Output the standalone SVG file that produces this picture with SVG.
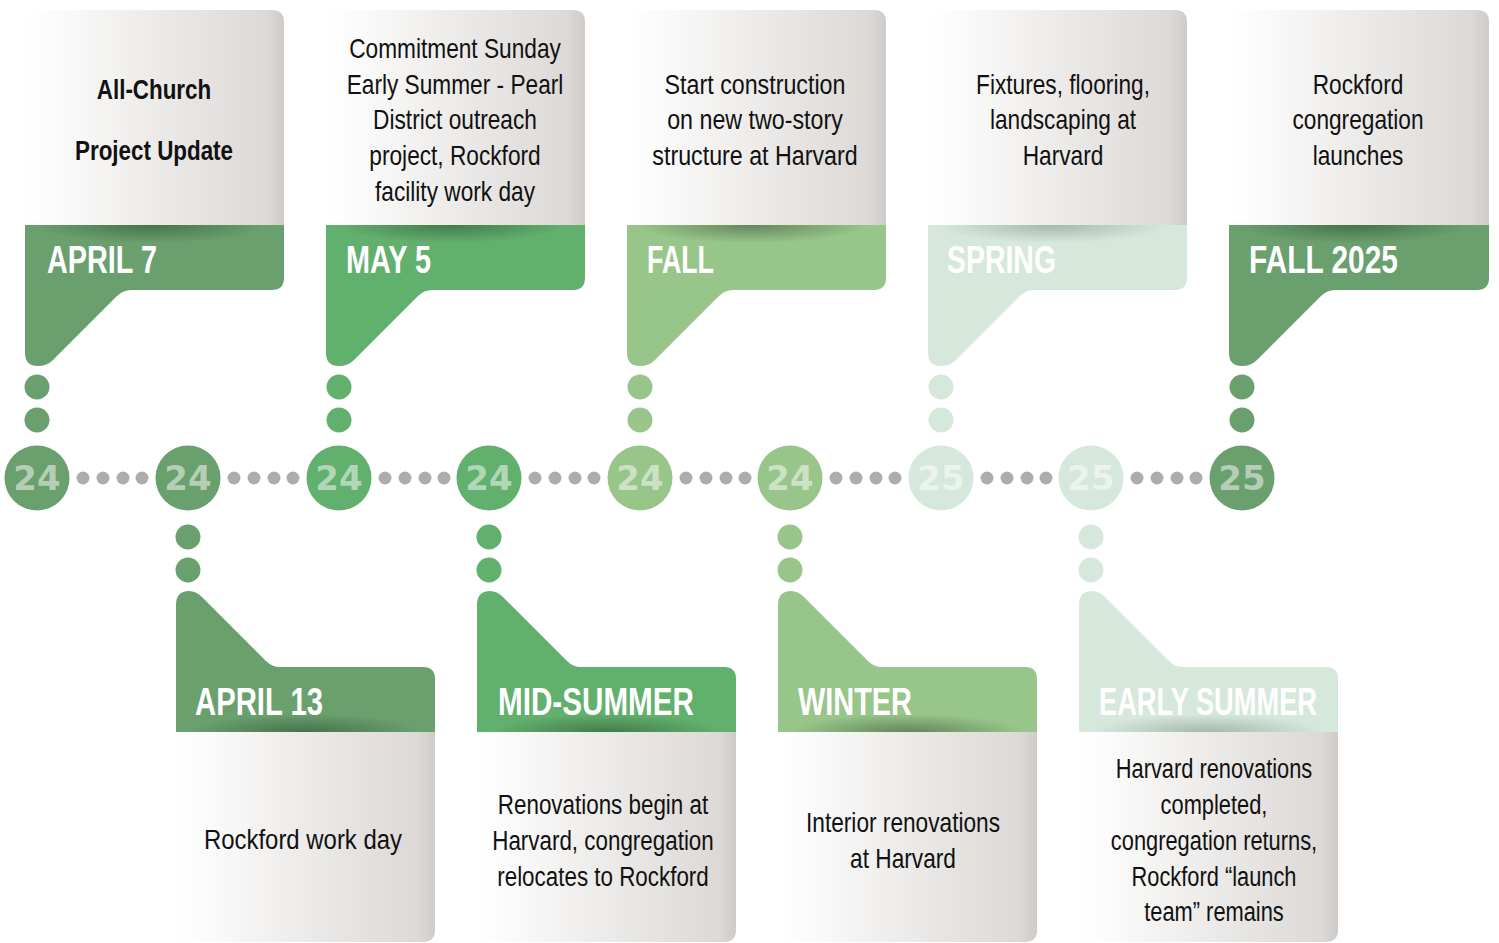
<svg xmlns="http://www.w3.org/2000/svg" width="1499" height="943" viewBox="0 0 1499 943">
<defs>
<linearGradient id="gray" x1="0" y1="0" x2="1" y2="0">
<stop offset="0" stop-color="#ffffff"/>
<stop offset="0.12" stop-color="#fbfbfb"/>
<stop offset="0.55" stop-color="#ebe9e7"/>
<stop offset="0.93" stop-color="#dcd9d7"/>
<stop offset="1" stop-color="#cfcbc9"/>
</linearGradient>
<radialGradient id="shadow" cx="0.5" cy="0.5" r="0.5">
<stop offset="0" stop-color="#1e3a22" stop-opacity="0.45"/>
<stop offset="0.6" stop-color="#1e3a22" stop-opacity="0.18"/>
<stop offset="1" stop-color="#1e3a22" stop-opacity="0"/>
</radialGradient>
<style>
.dark{fill:#6a9f6e}
.med{fill:#62b06e}
.light{fill:#98c58a}
.pale{fill:#d6e8dc}
.gdot{fill:#b1acac}
.num{font-family:"DejaVu Sans",sans-serif;font-weight:bold;font-size:34px;fill:#ffffff;fill-opacity:0.5;text-anchor:middle}
.title{font-family:"Liberation Sans",Arial,sans-serif;font-weight:bold;font-size:39px;fill:#ffffff}
.body{font-family:"Liberation Sans",Arial,sans-serif;font-size:28px;fill:#111111;text-anchor:middle}
.bold{font-weight:bold;font-size:28px}
</style>
</defs>

<g id="connectors">
<g class="gdot">
<circle cx="83" cy="478" r="6.5"/><circle cx="103" cy="478" r="6.5"/><circle cx="123" cy="478" r="6.5"/><circle cx="142" cy="478" r="6.5"/>
<circle cx="234" cy="478" r="6.5"/><circle cx="254" cy="478" r="6.5"/><circle cx="274" cy="478" r="6.5"/><circle cx="293" cy="478" r="6.5"/>
<circle cx="385" cy="478" r="6.5"/><circle cx="405" cy="478" r="6.5"/><circle cx="425" cy="478" r="6.5"/><circle cx="444" cy="478" r="6.5"/>
<circle cx="535" cy="478" r="6.5"/><circle cx="555" cy="478" r="6.5"/><circle cx="575" cy="478" r="6.5"/><circle cx="594" cy="478" r="6.5"/>
<circle cx="686" cy="478" r="6.5"/><circle cx="706" cy="478" r="6.5"/><circle cx="726" cy="478" r="6.5"/><circle cx="745" cy="478" r="6.5"/>
<circle cx="836" cy="478" r="6.5"/><circle cx="856" cy="478" r="6.5"/><circle cx="876" cy="478" r="6.5"/><circle cx="895" cy="478" r="6.5"/>
<circle cx="987" cy="478" r="6.5"/><circle cx="1007" cy="478" r="6.5"/><circle cx="1027" cy="478" r="6.5"/><circle cx="1046" cy="478" r="6.5"/>
<circle cx="1137" cy="478" r="6.5"/><circle cx="1157" cy="478" r="6.5"/><circle cx="1177" cy="478" r="6.5"/><circle cx="1196" cy="478" r="6.5"/>
</g>
<circle class="dark" cx="37" cy="387" r="12.5"/><circle class="dark" cx="37" cy="420" r="12.5"/>
<circle class="med" cx="339" cy="387" r="12.5"/><circle class="med" cx="339" cy="420" r="12.5"/>
<circle class="light" cx="640" cy="387" r="12.5"/><circle class="light" cx="640" cy="420" r="12.5"/>
<circle class="pale" cx="941" cy="387" r="12.5"/><circle class="pale" cx="941" cy="420" r="12.5"/>
<circle class="dark" cx="1242" cy="387" r="12.5"/><circle class="dark" cx="1242" cy="420" r="12.5"/>
<circle class="dark" cx="188" cy="537" r="12.5"/><circle class="dark" cx="188" cy="570" r="12.5"/>
<circle class="med" cx="489" cy="537" r="12.5"/><circle class="med" cx="489" cy="570" r="12.5"/>
<circle class="light" cx="790" cy="537" r="12.5"/><circle class="light" cx="790" cy="570" r="12.5"/>
<circle class="pale" cx="1091" cy="537" r="12.5"/><circle class="pale" cx="1091" cy="570" r="12.5"/>
</g>

<g id="year-1"><circle class="dark" cx="37" cy="478" r="32.5"/><text class="num" x="37" y="490">24</text></g>
<g id="year-2"><circle class="dark" cx="188" cy="478" r="32.5"/><text class="num" x="188" y="490">24</text></g>
<g id="year-3"><circle class="med" cx="339" cy="478" r="32.5"/><text class="num" x="339" y="490">24</text></g>
<g id="year-4"><circle class="med" cx="489" cy="478" r="32.5"/><text class="num" x="489" y="490">24</text></g>
<g id="year-5"><circle class="light" cx="640" cy="478" r="32.5"/><text class="num" x="640" y="490">24</text></g>
<g id="year-6"><circle class="light" cx="790" cy="478" r="32.5"/><text class="num" x="790" y="490">24</text></g>
<g id="year-7"><circle class="pale" cx="941" cy="478" r="32.5"/><text class="num" x="941" y="490">25</text></g>
<g id="year-8"><circle class="pale" cx="1091" cy="478" r="32.5"/><text class="num" x="1091" y="490">25</text></g>
<g id="year-9"><circle class="dark" cx="1242" cy="478" r="32.5"/><text class="num" x="1242" y="490">25</text></g>

<g id="card-april7">
<path class="dark" d="M25 225 H284 V278 Q284 290 272 290 H131 Q123 290 117 296 L53 360 Q47 366 38 366 Q25 366 25 353 Z"/>
<ellipse cx="150" cy="225" rx="115" ry="18" fill="url(#shadow)"/>
<path fill="url(#gray)" d="M25 225 V22 Q25 10 37 10 H272 Q284 10 284 22 V225 Z"/>
<text class="title" x="47" y="273" textLength="110" lengthAdjust="spacingAndGlyphs">APRIL 7</text>
<g transform="translate(154 0) scale(0.8 1)">
<text class="body bold" x="0" y="99">All-Church</text>
<text class="body bold" x="0" y="160">Project Update</text>
</g>
</g>

<g id="card-may5">
<path class="med" d="M326 225 H585 V278 Q585 290 573 290 H432 Q424 290 418 296 L354 360 Q348 366 339 366 Q326 366 326 353 Z"/>
<ellipse cx="451" cy="225" rx="115" ry="18" fill="url(#shadow)"/>
<path fill="url(#gray)" d="M326 225 V22 Q326 10 338 10 H573 Q585 10 585 22 V225 Z"/>
<text class="title" x="346" y="273" textLength="85" lengthAdjust="spacingAndGlyphs">MAY 5</text>
<g transform="translate(455 0) scale(0.81 1)">
<text class="body" x="0" y="58">Commitment Sunday</text>
<text class="body" x="0" y="94">Early Summer - Pearl</text>
<text class="body" x="0" y="129">District outreach</text>
<text class="body" x="0" y="165">project, Rockford</text>
<text class="body" x="0" y="201">facility work day</text>
</g>
</g>

<g id="card-fall">
<path class="light" d="M627 225 H886 V278 Q886 290 874 290 H733 Q725 290 719 296 L655 360 Q649 366 640 366 Q627 366 627 353 Z"/>
<ellipse cx="752" cy="225" rx="115" ry="18" fill="url(#shadow)"/>
<path fill="url(#gray)" d="M627 225 V22 Q627 10 639 10 H874 Q886 10 886 22 V225 Z"/>
<text class="title" x="647" y="273" textLength="67" lengthAdjust="spacingAndGlyphs">FALL</text>
<g transform="translate(755 0) scale(0.83 1)">
<text class="body" x="0" y="94">Start construction</text>
<text class="body" x="0" y="129">on new two-story</text>
<text class="body" x="0" y="165">structure at Harvard</text>
</g>
</g>

<g id="card-spring">
<path class="pale" d="M928 225 H1187 V278 Q1187 290 1175 290 H1034 Q1026 290 1020 296 L956 360 Q950 366 941 366 Q928 366 928 353 Z"/>
<ellipse cx="1053" cy="225" rx="115" ry="18" fill="url(#shadow)" opacity="0.6"/>
<path fill="url(#gray)" d="M928 225 V22 Q928 10 940 10 H1175 Q1187 10 1187 22 V225 Z"/>
<text class="title" x="947" y="273" textLength="109" lengthAdjust="spacingAndGlyphs">SPRING</text>
<g transform="translate(1063 0) scale(0.81 1)">
<text class="body" x="0" y="94">Fixtures, flooring,</text>
<text class="body" x="0" y="129">landscaping at</text>
<text class="body" x="0" y="165">Harvard</text>
</g>
</g>

<g id="card-fall2025">
<path class="dark" d="M1229 225 H1489 V278 Q1489 290 1477 290 H1335 Q1327 290 1321 296 L1257 360 Q1251 366 1242 366 Q1229 366 1229 353 Z"/>
<ellipse cx="1354" cy="225" rx="115" ry="18" fill="url(#shadow)"/>
<path fill="url(#gray)" d="M1229 225 V22 Q1229 10 1241 10 H1477 Q1489 10 1489 22 V225 Z"/>
<text class="title" x="1249" y="273" textLength="149" lengthAdjust="spacingAndGlyphs">FALL 2025</text>
<g transform="translate(1358 0) scale(0.81 1)">
<text class="body" x="0" y="94">Rockford</text>
<text class="body" x="0" y="129">congregation</text>
<text class="body" x="0" y="165">launches</text>
</g>
</g>

<g id="card-april13">
<path class="dark" d="M176 732 V605 Q176 591 189 591 Q196 591 202 597 L266 661 Q272 667 280 667 H423 Q435 667 435 679 V732 Z"/>
<ellipse cx="305" cy="732" rx="115" ry="18" fill="url(#shadow)"/>
<path fill="url(#gray)" d="M176 732 H435 V930 Q435 942 423 942 H176 Z"/>
<text class="title" x="195" y="715" textLength="128" lengthAdjust="spacingAndGlyphs">APRIL 13</text>
<g transform="translate(303 0) scale(0.855 1)">
<text class="body" x="0" y="849">Rockford work day</text>
</g>
</g>

<g id="card-midsummer">
<path class="med" d="M477 732 V605 Q477 591 490 591 Q497 591 503 597 L567 661 Q573 667 581 667 H724 Q736 667 736 679 V732 Z"/>
<ellipse cx="606" cy="732" rx="115" ry="18" fill="url(#shadow)"/>
<path fill="url(#gray)" d="M477 732 H736 V930 Q736 942 724 942 H477 Z"/>
<text class="title" x="498" y="715" textLength="196" lengthAdjust="spacingAndGlyphs">MID-SUMMER</text>
<g transform="translate(603 0) scale(0.8 1)">
<text class="body" x="0" y="814">Renovations begin at</text>
<text class="body" x="0" y="850">Harvard, congregation</text>
<text class="body" x="0" y="886">relocates to Rockford</text>
</g>
</g>

<g id="card-winter">
<path class="light" d="M778 732 V605 Q778 591 791 591 Q798 591 804 597 L868 661 Q874 667 882 667 H1025 Q1037 667 1037 679 V732 Z"/>
<ellipse cx="907" cy="732" rx="115" ry="18" fill="url(#shadow)"/>
<path fill="url(#gray)" d="M778 732 H1037 V930 Q1037 942 1025 942 H778 Z"/>
<text class="title" x="798" y="715" textLength="114" lengthAdjust="spacingAndGlyphs">WINTER</text>
<g transform="translate(903 0) scale(0.81 1)">
<text class="body" x="0" y="832">Interior renovations</text>
<text class="body" x="0" y="868">at Harvard</text>
</g>
</g>

<g id="card-earlysummer">
<path class="pale" d="M1079 732 V605 Q1079 591 1092 591 Q1099 591 1105 597 L1169 661 Q1175 667 1183 667 H1326 Q1338 667 1338 679 V732 Z"/>
<ellipse cx="1208" cy="732" rx="115" ry="18" fill="url(#shadow)" opacity="0.6"/>
<path fill="url(#gray)" d="M1079 732 H1338 V930 Q1338 942 1326 942 H1079 Z"/>
<text class="title" x="1099" y="715" textLength="218" lengthAdjust="spacingAndGlyphs">EARLY SUMMER</text>
<g transform="translate(1214 0) scale(0.78 1)">
<text class="body" x="0" y="778">Harvard renovations</text>
<text class="body" x="0" y="814">completed,</text>
<text class="body" x="0" y="850">congregation returns,</text>
<text class="body" x="0" y="886">Rockford “launch</text>
<text class="body" x="0" y="921">team” remains</text>
</g>
</g>
</svg>
